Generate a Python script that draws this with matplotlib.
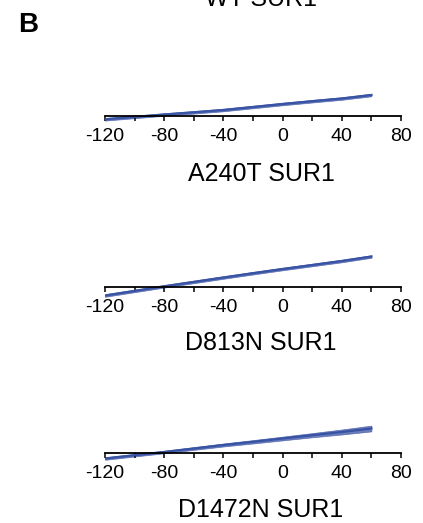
import matplotlib
matplotlib.use("Agg")
import matplotlib.pyplot as plt
from matplotlib.ticker import MultipleLocator

plt.rcParams['font.family'] = ['Liberation Sans', 'DejaVu Sans']
plt.rcParams['axes.unicode_minus'] = False

# Voltaje de la rampa (mV) y corriente (unid. arbitrarias)
voltage = [-120, -100, -80, -60, -40, -20, 0, 20, 40, 60]
i_a240t = [-3.3, -0.9, 1.5, 3.7, 6.0, 9.0, 12.0, 14.8, 17.5, 21.0]
i_d813n = [-8.5, -3.9, 0.7, 5.1, 9.5, 13.8, 18.0, 22.0, 26.0, 30.5]
i_d1472n = [-5.5, -2.2, 1.0, 4.5, 8.0, 11.2, 14.5, 17.8, 21.0, 24.5]
# ancho aprox. del ruido de cada traza
noise_a240t = [1.3, 1.3, 1.3, 1.3, 1.3, 1.3, 1.3, 1.3, 1.3, 1.3]
noise_d813n = [1.3, 1.3, 1.3, 1.3, 1.3, 1.3, 1.3, 1.3, 1.3, 1.3]
noise_d1472n = [1.3, 1.3, 1.3, 1.4, 1.5, 1.7, 1.9, 2.1, 2.5, 2.9]

names = ["A240T SUR1", "D813N SUR1", "D1472N SUR1"]
currents = [i_a240t, i_d813n, i_d1472n]
noises = [noise_a240t, noise_d813n, noise_d1472n]

W, H = 423, 523
color = '#3953a4'

fig = plt.figure(figsize=(W / 100, H / 100), dpi=100)

# posiciones (en pixeles desde arriba) del eje x y del titulo de cada panel
axis_y = [116, 287, 453]
title_y = [181, 350, 517]
x0, x1 = 105, 401

for name, cur, noi, ya, yt in zip(names, currents, noises, axis_y, title_y):
    ax = fig.add_axes([x0 / W, 1 - (ya + 12) / H, (x1 - x0) / W, 52 / H])
    lo = [c - n for c, n in zip(cur, noi)]
    hi = [c + n for c, n in zip(cur, noi)]
    ax.fill_between(voltage, lo, hi, color=color, alpha=0.75, lw=0.5)
    ax.plot(voltage, cur, color=color, lw=1.6)
    ax.set_xlim(-120, 80)
    ax.set_ylim(-12, 40)
    for s in ['top', 'right', 'left']:
        ax.spines[s].set_visible(False)
    ax.spines['bottom'].set_position(('data', 0))
    ax.spines['bottom'].set_linewidth(1.3)
    ax.set_yticks([])
    ax.xaxis.set_major_locator(MultipleLocator(40))
    ax.xaxis.set_minor_locator(MultipleLocator(20))
    ax.tick_params(axis='x', which='both', direction='out', length=3.5,
                   width=1.1, labelsize=14, pad=5)
    ax.patch.set_visible(False)
    fig.text(261 / W, 1 - yt / H, name, ha='center', va='baseline', fontsize=18)

fig.text(261 / W, 1 - 6 / H, "WT SUR1", ha='center', va='baseline', fontsize=18)
fig.text(18 / W, 1 - 32 / H, "B", ha='left', va='baseline', fontsize=20,
         fontweight='bold')

fig.savefig("out.png", dpi=100)
